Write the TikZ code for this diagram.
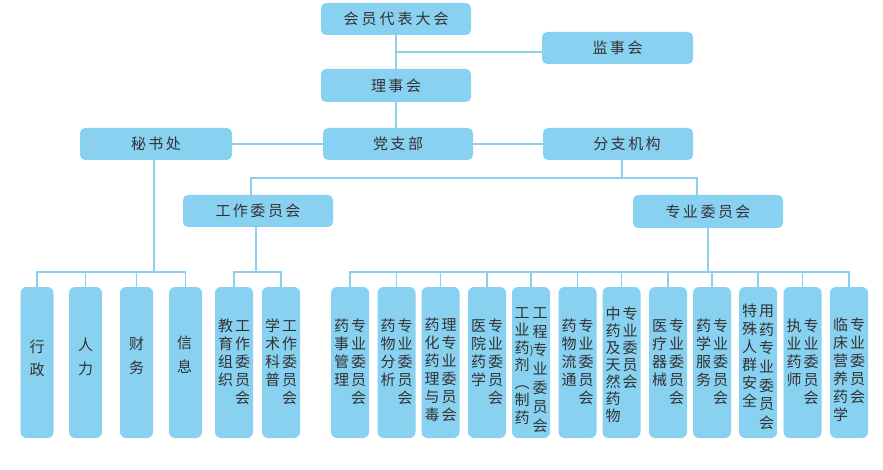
\documentclass[tikz,border=0pt]{standalone}
\usepackage{fontspec}
\newfontfamily\cjk{Noto Sans CJK SC}
\usetikzlibrary{calc}
\definecolor{boxblue}{RGB}{137,209,241}
\definecolor{lineblue}{RGB}{140,208,238}
\definecolor{txt}{RGB}{50,50,50}
\newcommand\vcol[2][18pt]{\vtop{\baselineskip=#1\lineskiplimit=-30pt\lineskip=0pt\halign{\hfil##\hfil\cr#2\crcr}}}
\newcommand\kk{\kern2.5pt}
\newcommand\tcol[2]{\vcol{#1}\kern2pt\vcol{#2}}
\begin{document}
\begin{tikzpicture}[x=1pt,y=-1pt,
  hb/.style={fill=boxblue, rounded corners=5pt, minimum width=150pt, minimum height=32pt, inner sep=0pt, text=txt, font=\cjk\fontsize{15}{18}\selectfont},
  vb/.style={fill=boxblue, rounded corners=6pt, minimum width=38pt, minimum height=151pt, inner sep=0pt},
  vt/.style={anchor=base, inner sep=0pt, text=txt, font=\cjk\fontsize{15}{18}\selectfont},
  ln/.style={draw=lineblue, line width=1.5pt}]
\useasboundingbox (0,0) rectangle (883,470);

% top level boxes
\node[hb] (dh) at (396,19) {会\kern3pt 员\kern3pt 代\kern3pt 表\kern3pt 大\kern3pt 会};
\node[hb, minimum width=151pt] (js) at (617.5,48) {监\kk 事\kk 会};
\node[hb, minimum height=33pt] (ls) at (396,85.5) {理\kk 事\kk 会};
\node[hb] (dz) at (398,144) {党\kk 支\kk 部};
\node[hb, minimum width=152pt] (ms) at (156,144) {秘\kk 书\kk 处};
\node[hb] (fz) at (618,144) {\kern18pt 分\kk 支\kk 机\kk 构};
\node[hb] (gz) at (258,211) {工\kk 作\kk 委\kk 员\kk 会};
\node[hb, minimum height=33pt] (zy) at (708,211.5) {专\kk 业\kk 委\kk 员\kk 会};

% secretariat departments
\node[vb, minimum width=33pt] (xz) at (37,362.5) {};
\node[vb, minimum width=33pt] (rl) at (85.5,362.5) {};
\node[vb, minimum width=33pt] (cw) at (136.5,362.5) {};
\node[vb, minimum width=33pt] (xx) at (185.5,362.5) {};
\node[vt] (txz) at (37,352.7) {\vcol[23pt]{行\cr 政}};
\node[vt] (trl) at (85.5,350.7) {\vcol[24pt]{人\cr 力}};
\node[vt] (tcw) at (136.5,349.7) {\vcol[24pt]{财\cr 务}};
\node[vt] (txx) at (184.5,348.7) {\vcol[24pt]{信\cr 息}};

% working committees
\node[vb] (w1) at (234,362.5) {};
\node[vb] (w2) at (281,362.5) {};
\node[vt] (tw1) at (234,331.7) {\tcol{教\cr 育\cr 组\cr 织}{工\cr 作\cr 委\cr 员\cr 会}};
\node[vt] (tw2) at (281,331.7) {\tcol{学\cr 术\cr 科\cr 普}{工\cr 作\cr 委\cr 员\cr 会}};

% specialist committees
\node[vb] (s1) at (350,362.5) {};
\node[vb] (s2) at (396.5,362.5) {};
\node[vb] (s3) at (440.5,362.5) {};
\node[vb] (s4) at (487,362.5) {};
\node[vb] (s5) at (531,362.5) {};
\node[vb] (s6) at (577.5,362.5) {};
\node[vb] (s7) at (621.5,362.5) {};
\node[vb] (s8) at (668,362.5) {};
\node[vb] (s9) at (712,362.5) {};
\node[vb] (s10) at (758,362.5) {};
\node[vb] (s11) at (802.5,362.5) {};
\node[vb] (s12) at (849,362.5) {};

\node[vt] (ts1) at (350,331.7) {\tcol{药\cr 事\cr 管\cr 理}{专\cr 业\cr 委\cr 员\cr 会}};
\node[vt] (ts2) at (396.5,331.7) {\tcol{药\cr 物\cr 分\cr 析}{专\cr 业\cr 委\cr 员\cr 会}};
\node[vt] (ts3) at (440.5,330.7) {\tcol{药\cr 化\cr 药\cr 理\cr 与\cr 毒}{理\cr 专\cr 业\cr 委\cr 员\cr 会}};
\node[vt] (ts4) at (487,331.7) {\tcol{医\cr 院\cr 药\cr 学}{专\cr 业\cr 委\cr 员\cr 会}};
\node[vt] (ts5) at (531,318.2) {\vcol[17.5pt]{工\cr 业\cr 药\cr 剂\cr ︵\cr 制\cr 药}\kern3pt\vcol[18.8pt]{工\cr 程\cr \llap{\raisebox{1.5pt}{\fontsize{11}{11}\selectfont )}\kern-1pt}专\cr 业\cr 委\cr 员\cr 会}};
\node[vt] (ts6) at (577.5,331.7) {\tcol{药\cr 物\cr 流\cr 通}{专\cr 业\cr 委\cr 员\cr 会}};
\node[vt] (ts7) at (621.5,319.2) {\vcol[17pt]{中\cr 药\cr 及\cr 天\cr 然\cr 药\cr 物}\kern2pt\vcol[17pt]{专\cr 业\cr 委\cr 员\cr 会}};
\node[vt] (ts8) at (668,331.7) {\tcol{医\cr 疗\cr 器\cr 械}{专\cr 业\cr 委\cr 员\cr 会}};
\node[vt] (ts9) at (712,331.7) {\tcol{药\cr 学\cr 服\cr 务}{专\cr 业\cr 委\cr 员\cr 会}};
\node[vt] (ts10) at (758,316.7) {\vcol[18pt]{特\cr 殊\cr 人\cr 群\cr 安\cr 全}\kern2pt\vcol[18.6pt]{用\cr 药\cr 专\cr 业\cr 委\cr 员\cr 会}};
\node[vt] (ts11) at (802.5,331.7) {\tcol{执\cr 业\cr 药\cr 师}{专\cr 业\cr 委\cr 员\cr 会}};
\node[vt] (ts12) at (849,330.7) {\tcol{临\cr 床\cr 营\cr 养\cr 药\cr 学}{专\cr 业\cr 委\cr 员\cr 会}};

% connectors
\coordinate (j) at (396,52);
\coordinate (yb) at (0,272);
\coordinate (b1) at (622,178);
\draw[ln] (dh.south) -- (ls.north);
\draw[ln] (j) -- (js.west |- j);
\draw[ln] (ls.south) -- (ls.south |- dz.north);
\draw[ln] (ms.east) -- (dz.west);
\draw[ln] (dz.east) -- (fz.west);
% secretariat
\draw[ln] ($(ms.south)+(-2,0)$) -- ($(ms.south |- yb)+(-2,0)$);
\draw[ln] (xz.north) -- (xz.north |- yb) -- (xx.north |- yb) -- (xx.north);
\draw[ln] (rl.north) -- (rl.north |- yb);
\draw[ln] (cw.north) -- (cw.north |- yb);
% branches
\draw[ln] (b1 |- fz.south) -- (b1);
\draw[ln] ($(gz.north)+(-7,0)$) |- (b1) -| ($(zy.north)+(-11,0)$);
% working committees
\draw[ln] ($(gz.south)+(-2,0)$) -- ($(gz.south |- yb)+(-2,0)$);
\draw[ln] (w1.north) -- (w1.north |- yb) -- (w2.north |- yb) -- (w2.north);
% specialist committees
\draw[ln] (zy.south) -- (zy.south |- yb);
\draw[ln] (s1.north) -- (s1.north |- yb) -- (s12.north |- yb) -- (s12.north);
\foreach \s in {s2,s3,s4,s5,s6,s7,s8,s9,s10,s11}
  \draw[ln] (\s.north) -- (\s.north |- yb);
\end{tikzpicture}
\end{document}
